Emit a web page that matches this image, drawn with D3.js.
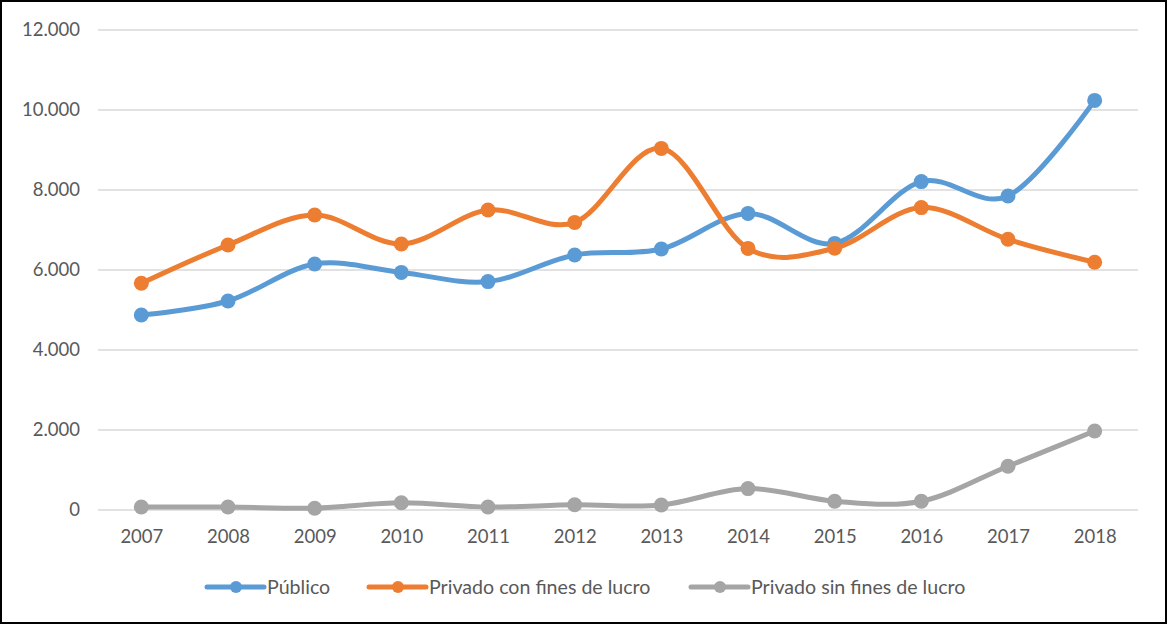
<!DOCTYPE html>
<html>
<head>
<meta charset="utf-8">
<script src="https://cdn.jsdelivr.net/npm/d3@7"></script>
<style>
  html, body { margin: 0; padding: 0; background: #fff; }
  svg { display: block; }
</style>
</head>
<body>
<svg id="chart" width="1168" height="626"></svg>
<script>
const years = ["2007","2008","2009","2010","2011","2012","2013","2014","2015","2016","2017","2018"];
const publico = [4875, 5225, 6150, 5940, 5710, 6375, 6525, 7415, 6665, 8210, 7850, 10240];
const privadoCon = [5667, 6625, 7375, 6650, 7500, 7190, 9040, 6540, 6545, 7560, 6767, 6193];
const privadoSin = [75, 75, 45, 180, 75, 130, 126, 535, 220, 220, 1095, 1975];
const seriesNames = ["Público", "Privado con fines de lucro", "Privado sin fines de lucro"];
const seriesColors = ["#5B9BD5", "#ED7D31", "#A5A5A5"];
const yTicks = [0, 2000, 4000, 6000, 8000, 10000, 12000];

const series = [publico, privadoCon, privadoSin].map((v, i) => ({ name: seriesNames[i], color: seriesColors[i], values: v }));

const svg = d3.select("#chart");
const W = 1168, H = 626;
const font = "Lato, 'Open Sans', sans-serif";
const textColor = "#595959";

// frame
svg.append("rect").attr("x", 1).attr("y", 1).attr("width", W - 3).attr("height", H - 4)
  .attr("fill", "#fff").attr("stroke", "#000").attr("stroke-width", 2);

const x = d3.scalePoint().domain(years).range([98, 1138]).padding(0.5);
const y = d3.scaleLinear().domain([0, 12000]).range([510, 30]);

// gridlines
svg.append("g").selectAll("line").data(yTicks).join("line")
  .attr("x1", 98).attr("x2", 1138)
  .attr("y1", d => y(d)).attr("y2", d => y(d))
  .attr("stroke", "#D9D9D9").attr("stroke-width", 1.3);

// y axis labels
const fmt = d => d === 0 ? "0" : d3.format(",")(d).replace(/,/g, ".");
const yAxis = svg.append("g").attr("transform", "translate(80,0)")
  .call(d3.axisLeft(y).tickValues(yTicks).tickFormat(fmt).tickSize(0).tickPadding(0));
yAxis.select(".domain").remove();
yAxis.selectAll("text").attr("fill", textColor).style("font-family", font).style("font-size", "18.5px");

// x axis labels
const xAxis = svg.append("g").attr("transform", "translate(0,530)")
  .call(d3.axisBottom(x).tickSize(0).tickPadding(0));
xAxis.select(".domain").remove();
xAxis.selectAll("text").attr("fill", textColor).style("font-family", font).style("font-size", "18.5px");

// lines
const line = d3.line().x((d, i) => x(years[i])).y(d => y(d)).curve(d3.curveCardinal.tension(0));
const g = svg.append("g");
series.forEach(s => {
  g.append("path").attr("d", line(s.values)).attr("fill", "none")
    .attr("stroke", s.color).attr("stroke-width", 5).attr("stroke-linecap", "round").attr("stroke-linejoin", "round");
  g.append("g").selectAll("circle").data(s.values).join("circle")
    .attr("cx", (d, i) => x(years[i])).attr("cy", d => y(d)).attr("r", 7.5)
    .attr("fill", s.color);
});

// legend
const legendX = [207, 369, 691];
const legend = svg.append("g");
series.forEach((s, i) => {
  const lg = legend.append("g").attr("transform", `translate(${legendX[i]},587)`);
  lg.append("line").attr("x1", 0).attr("x2", 57).attr("y1", 0).attr("y2", 0)
    .attr("stroke", s.color).attr("stroke-width", 5).attr("stroke-linecap", "round");
  lg.append("circle").attr("cx", 29).attr("cy", 0).attr("r", 6).attr("fill", s.color);
  lg.append("text").attr("x", 60).attr("y", 0).attr("dy", "0.35em")
    .attr("fill", textColor).style("font-family", font).style("font-size", "19.6px").text(s.name);
});
</script>
</body>
</html>
